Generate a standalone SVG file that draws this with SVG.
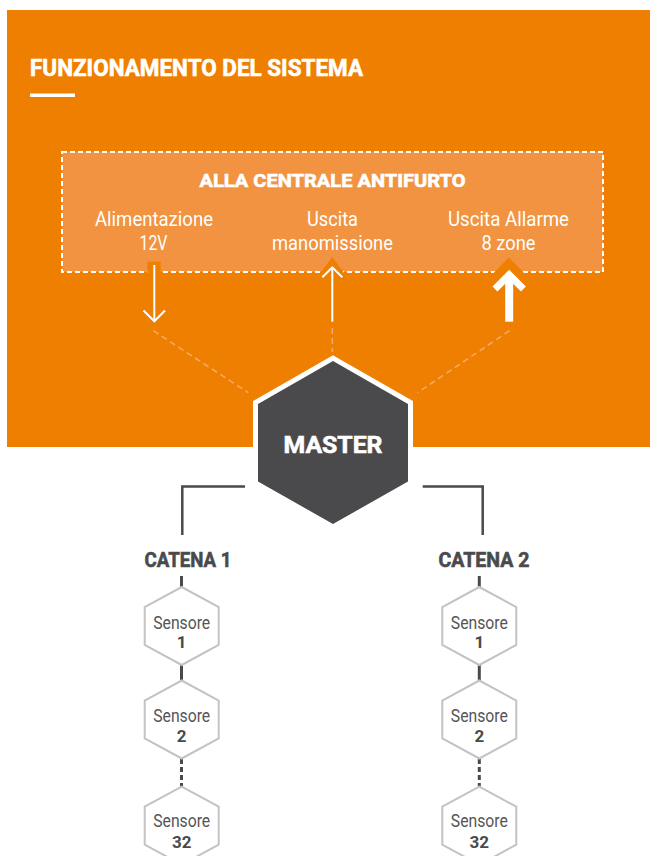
<svg xmlns="http://www.w3.org/2000/svg" width="650" height="856" viewBox="0 0 650 856">
<style>
.t{font-family:Roboto,"Liberation Sans",sans-serif}
.wb{fill:#fff;stroke:#fff;stroke-width:0.6;font-weight:700}
.wl{fill:#fff;font-weight:400;font-size:21px}
.dk{fill:#4a4a4c;stroke:#4a4a4c;stroke-width:0.6;font-weight:700}
.hex{fill:#fff;stroke:#c3c3c3;stroke-width:2}
.sn{fill:#555557;font-size:17.5px;font-weight:400}
.nm{fill:#4a4a4c;font-size:17px;font-weight:700}
.arr{fill:none;stroke:#fff;stroke-width:2}
.dl{fill:none;stroke:#f6a963;stroke-width:1.6;stroke-dasharray:6 4}
.cn{fill:none;stroke:#4a4a4c;stroke-width:2.5}
.sc{fill:none;stroke:#4a4a4c;stroke-width:3}
</style>
<defs>
<polygon id="hx" points="0,-39 37,-19 37,19 0,39 -37,19 -37,-19"/>
</defs>
<rect x="7" y="10" width="643" height="437" fill="#ef7f00"/>
<g id="title">
<text class="t wb" x="30" y="76" font-size="24" textLength="333" lengthAdjust="spacingAndGlyphs">FUNZIONAMENTO DEL SISTEMA</text>
<rect x="30" y="93.5" width="45" height="3.5" fill="#fff"/>
</g>
<g id="centrale">
<rect x="62" y="152" width="541" height="120" fill="#f19340" stroke="#fff" stroke-width="2" stroke-dasharray="5 3"/>
<text class="t wb" x="332.5" y="187" font-size="19" text-anchor="middle" textLength="266" lengthAdjust="spacingAndGlyphs">ALLA CENTRALE ANTIFURTO</text>
<text class="t wl" x="154" y="226" text-anchor="middle" textLength="118" lengthAdjust="spacingAndGlyphs">Alimentazione</text>
<text class="t wl" x="153.5" y="250" text-anchor="middle" textLength="28" lengthAdjust="spacingAndGlyphs">12V</text>
<text class="t wl" x="332.5" y="226" text-anchor="middle" textLength="51" lengthAdjust="spacingAndGlyphs">Uscita</text>
<text class="t wl" x="332.5" y="250" text-anchor="middle" textLength="121" lengthAdjust="spacingAndGlyphs">manomissione</text>
<text class="t wl" x="508.5" y="226" text-anchor="middle" textLength="121" lengthAdjust="spacingAndGlyphs">Uscita Allarme</text>
<text class="t wl" x="508.5" y="250" text-anchor="middle" textLength="54" lengthAdjust="spacingAndGlyphs">8 zone</text>
</g>
<g id="connectors">
<rect x="147.3" y="261.7" width="13.4" height="11.5" fill="#ef7f00"/>
<line class="arr" x1="154.3" y1="265" x2="154.3" y2="321"/>
<polyline class="arr" points="143.5,310.5 154.3,321.3 165,310.5"/>
<polygon points="332.3,257 344.5,273.5 320,273.5" fill="#ef7f00"/>
<line class="arr" x1="332.3" y1="268" x2="332.3" y2="321.7"/>
<polyline class="arr" points="322.3,277.3 332.3,267.3 342.3,277.3"/>
<polygon points="508.8,257.5 524.5,273.5 493,273.5" fill="#ef7f00"/>
<line x1="509.2" y1="276" x2="509.2" y2="321.7" stroke="#fff" stroke-width="8"/>
<polyline points="495,289 509.2,274.8 523.4,289" fill="none" stroke="#fff" stroke-width="7"/>
<line class="dl" x1="153.3" y1="330.7" x2="248.3" y2="392.7"/>
<line class="dl" x1="332.3" y1="328" x2="332.3" y2="352"/>
<line class="dl" x1="509.5" y1="330.7" x2="417.5" y2="392.7"/>
<path class="cn" d="M245,486.5 H182.3 V535"/>
<path class="cn" d="M422.7,486.5 H482.7 V535"/>
<line class="sc" x1="181.5" y1="576" x2="181.5" y2="588"/>
<line class="sc" x1="181.5" y1="664" x2="181.5" y2="681"/>
<line class="sc" x1="181.5" y1="759" x2="181.5" y2="787" stroke-width="2.5" stroke-dasharray="5 3"/>
<line class="sc" x1="479.3" y1="576" x2="479.3" y2="588"/>
<line class="sc" x1="479.3" y1="664" x2="479.3" y2="681"/>
<line class="sc" x1="479.3" y1="759" x2="479.3" y2="787" stroke-width="2.5" stroke-dasharray="5 3"/>
</g>
<g id="master">
<polygon points="333,361 408,404 408,481.5 333,524 258,481.5 258,404" fill="#fff" stroke="#fff" stroke-width="10" stroke-linejoin="miter"/>
<polygon points="333,361 408,404 408,481.5 333,524 258,481.5 258,404" fill="#4a4a4c"/>
<text class="t wb" x="333" y="453.3" font-size="24.5" text-anchor="middle" textLength="99" lengthAdjust="spacingAndGlyphs">MASTER</text>
</g>
<g id="catena1">
<text class="t dk" x="188" y="566.7" font-size="21" text-anchor="middle" textLength="87" lengthAdjust="spacingAndGlyphs">CATENA 1</text>
</g>
<g id="catena2">
<text class="t dk" x="484" y="566.7" font-size="21" text-anchor="middle" textLength="91" lengthAdjust="spacingAndGlyphs">CATENA 2</text>
</g>
<g id="c1s1" transform="translate(181.7,626)">
<use href="#hx" class="hex"/>
<text class="t sn" x="0" y="3.3" text-anchor="middle" textLength="57" lengthAdjust="spacingAndGlyphs">Sensore</text>
<text class="t nm" x="0" y="22.3" text-anchor="middle">1</text>
</g>
<g id="c1s2" transform="translate(181.7,719.5)">
<use href="#hx" class="hex"/>
<text class="t sn" x="0" y="2.5" text-anchor="middle" textLength="57" lengthAdjust="spacingAndGlyphs">Sensore</text>
<text class="t nm" x="0" y="22.3" text-anchor="middle">2</text>
</g>
<g id="c1s32" transform="translate(181.7,825.7)">
<use href="#hx" class="hex"/>
<text class="t sn" x="0" y="1.5" text-anchor="middle" textLength="57" lengthAdjust="spacingAndGlyphs">Sensore</text>
<text class="t nm" x="0" y="22.6" text-anchor="middle">32</text>
</g>
<g id="c2s1" transform="translate(479.3,626)">
<use href="#hx" class="hex"/>
<text class="t sn" x="0" y="3.3" text-anchor="middle" textLength="57" lengthAdjust="spacingAndGlyphs">Sensore</text>
<text class="t nm" x="0" y="22.3" text-anchor="middle">1</text>
</g>
<g id="c2s2" transform="translate(479.3,719.5)">
<use href="#hx" class="hex"/>
<text class="t sn" x="0" y="2.5" text-anchor="middle" textLength="57" lengthAdjust="spacingAndGlyphs">Sensore</text>
<text class="t nm" x="0" y="22.3" text-anchor="middle">2</text>
</g>
<g id="c2s32" transform="translate(479.3,825.7)">
<use href="#hx" class="hex"/>
<text class="t sn" x="0" y="1.5" text-anchor="middle" textLength="57" lengthAdjust="spacingAndGlyphs">Sensore</text>
<text class="t nm" x="0" y="22.6" text-anchor="middle">32</text>
</g>
</svg>
